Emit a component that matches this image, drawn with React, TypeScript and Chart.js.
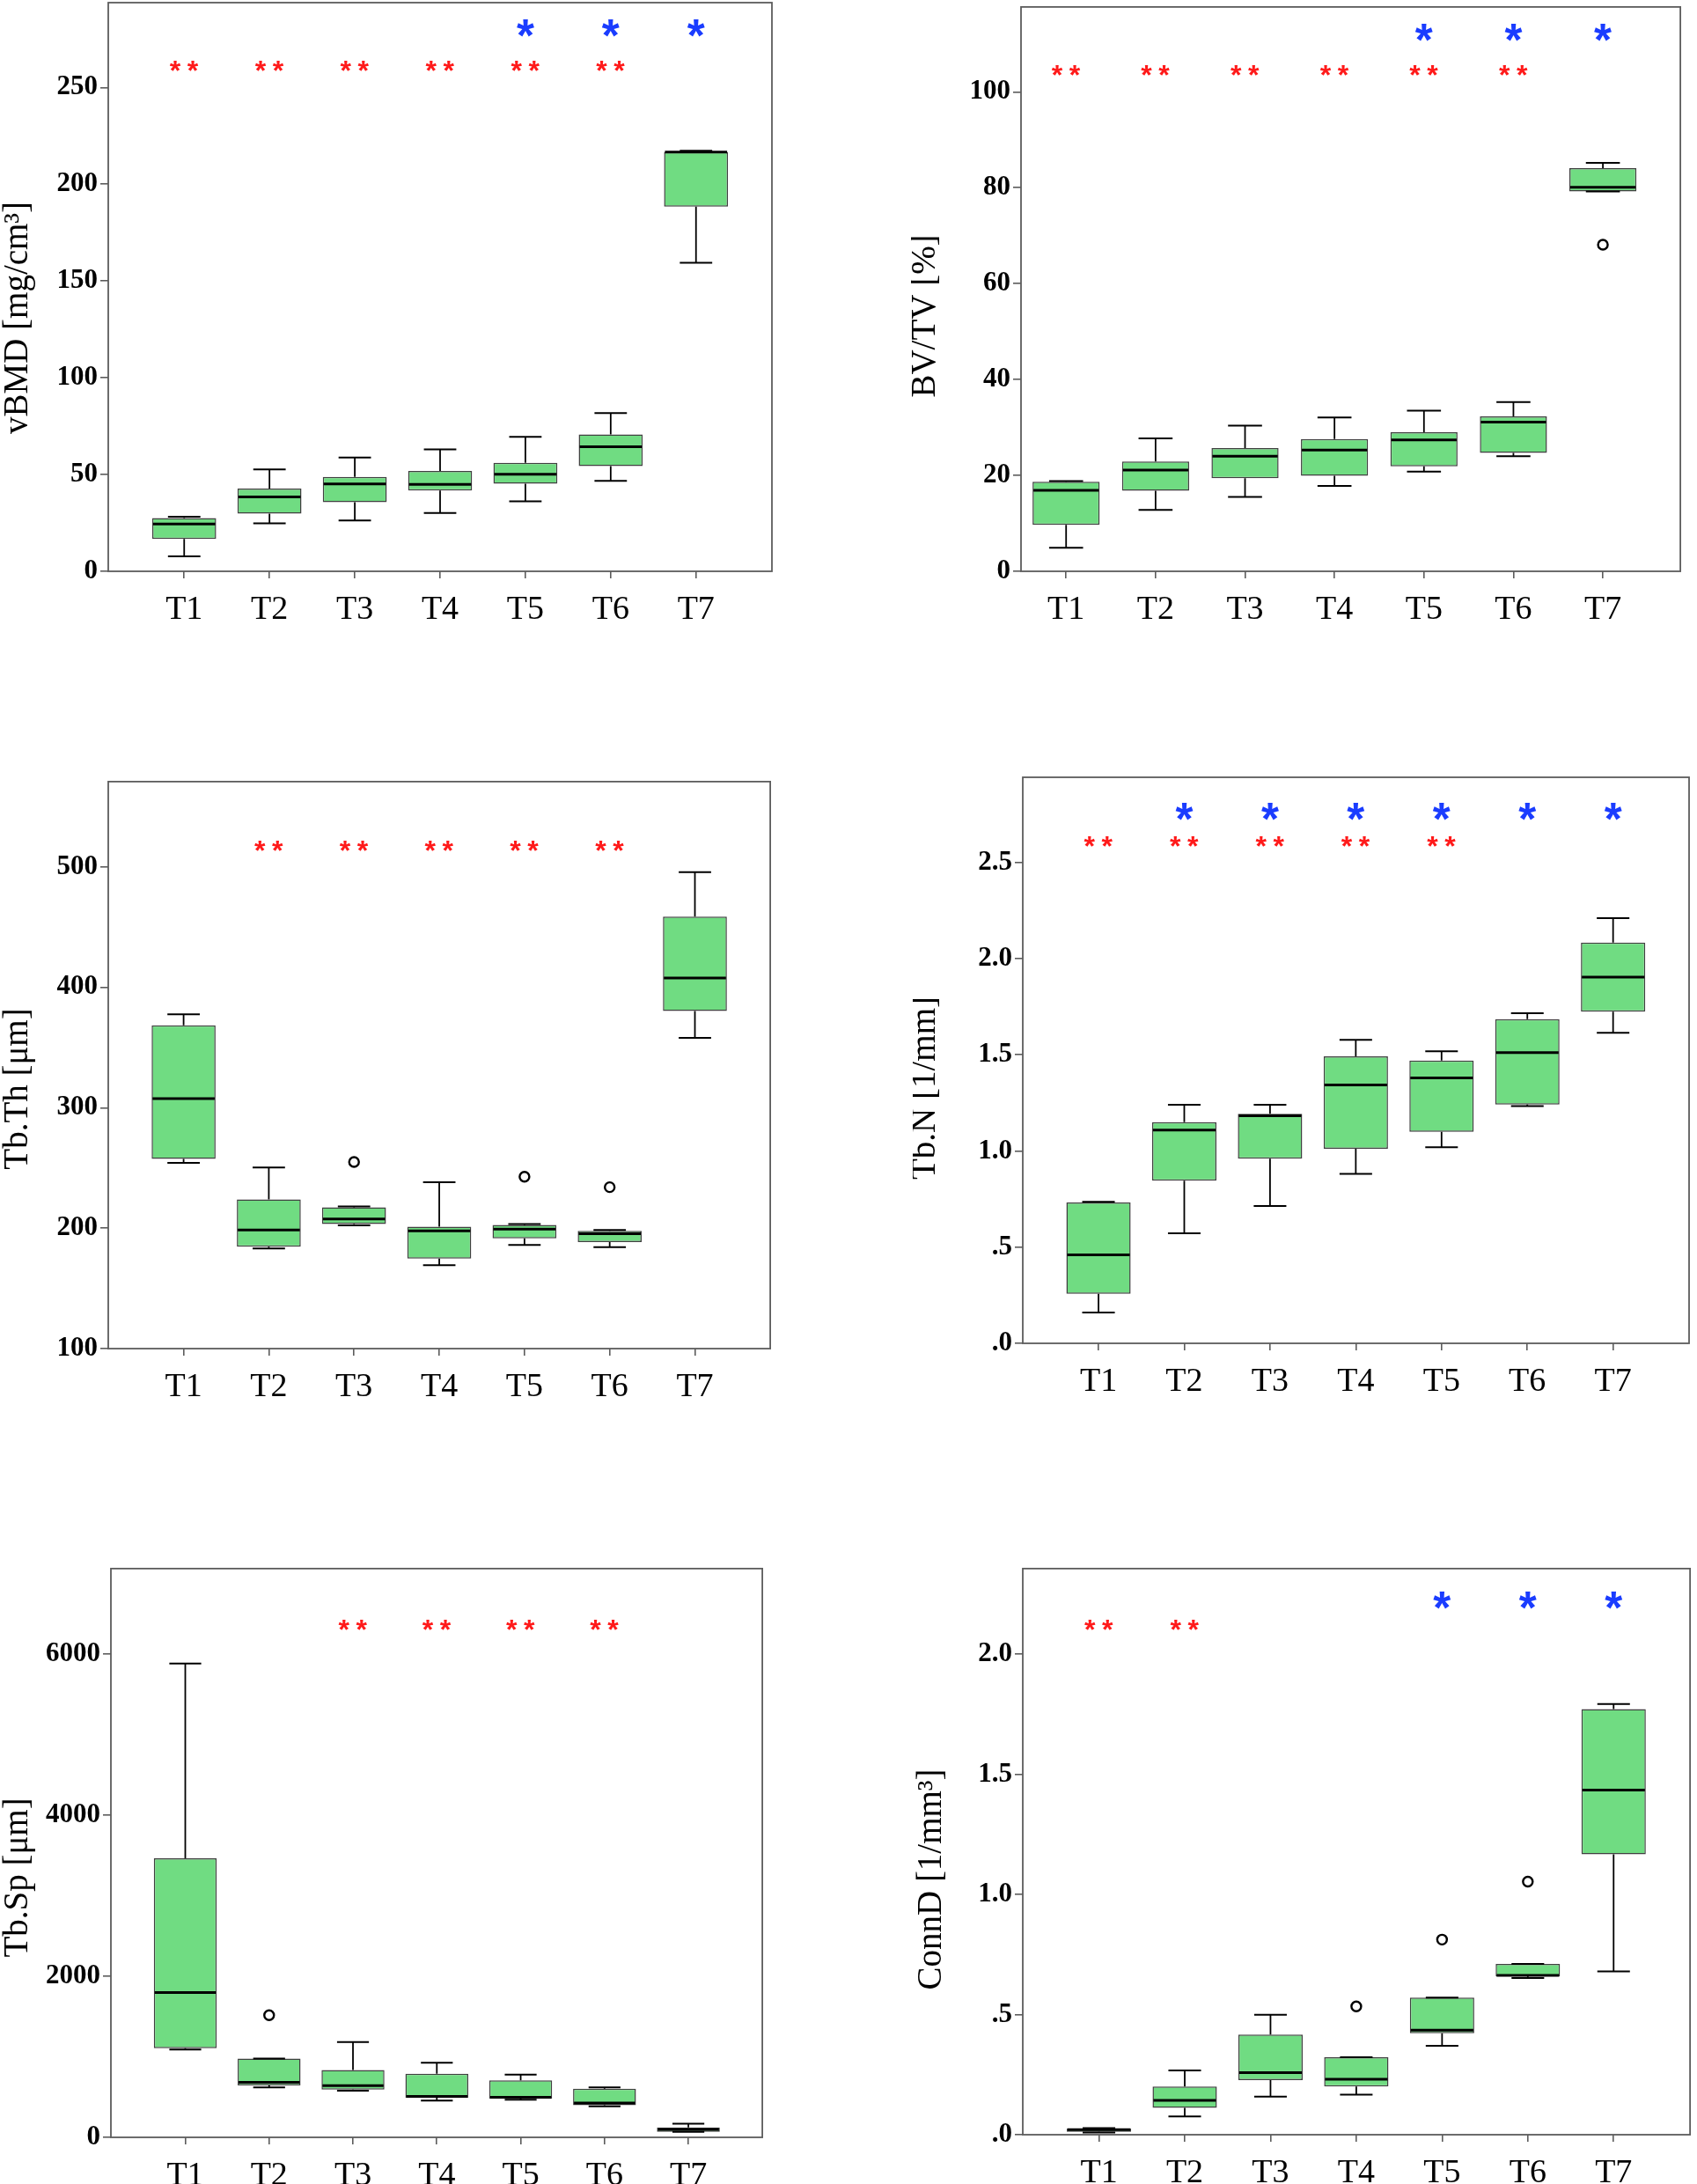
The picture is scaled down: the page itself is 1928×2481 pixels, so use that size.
import React, { useEffect, useRef } from "react";
import { Chart, registerables } from "chart.js";

Chart.register(...registerables);

// ---------- data ----------
const categories = ["T1", "T2", "T3", "T4", "T5", "T6", "T7"];

// vBMD [mg/cm3]
const vbmdLow = [7.7, 24.8, 26.3, 30.1, 36.1, 46.7, 159.4];
const vbmdQ1 = [16.7, 29.8, 35.7, 41.7, 45.3, 54.3, 188.4];
const vbmdMed = [24.4, 38.4, 45.1, 44.9, 50.1, 64.3, 216.6];
const vbmdQ3 = [27.5, 42.8, 48.8, 51.8, 56.1, 70.7, 216.6];
const vbmdHigh = [28.2, 52.6, 58.8, 63.0, 69.5, 81.8, 217.3];
const vbmdOutliers: [number, number][] = [];
const vbmdTicks = [0, 50, 100, 150, 200, 250];
const vbmdTickLabels = ["0", "50", "100", "150", "200", "250"];
const vbmdRed = [1, 2, 3, 4, 5, 6];
const vbmdBlue = [5, 6, 7];

// BV/TV [%]
const bvtvLow = [4.9, 12.8, 15.5, 17.8, 20.8, 24.0, 79.2];
const bvtvQ1 = [9.7, 16.8, 19.4, 19.9, 21.9, 24.7, 79.2];
const bvtvMed = [16.9, 21.1, 24.0, 25.3, 27.4, 31.1, 80.1];
const bvtvQ3 = [18.7, 22.9, 25.7, 27.6, 29.0, 32.3, 84.1];
const bvtvHigh = [18.8, 27.7, 30.4, 32.1, 33.5, 35.3, 85.2];
const bvtvOutliers: [number, number][] = [[7, 68.1]];
const bvtvTicks = [0, 20, 40, 60, 80, 100];
const bvtvTickLabels = ["0", "20", "40", "60", "80", "100"];
const bvtvRed = [1, 2, 3, 4, 5, 6];
const bvtvBlue = [5, 6, 7];

// Tb.Th [um]
const tbthLow = [254.2, 183.2, 202.3, 169.3, 186.0, 184.2, 358.0];
const tbthQ1 = [257.4, 184.6, 203.4, 174.8, 191.6, 188.4, 380.2];
const tbthMed = [307.5, 198.5, 207.6, 197.8, 199.2, 195.4, 407.7];
const tbthQ3 = [368.4, 223.9, 217.3, 201.3, 202.7, 197.8, 458.6];
const tbthHigh = [377.5, 250.4, 218.0, 238.2, 203.4, 198.5, 495.5];
const tbthOutliers: [number, number][] = [[3, 254.9], [5, 242.7], [6, 234.0]];
const tbthTicks = [100, 200, 300, 400, 500];
const tbthTickLabels = ["100", "200", "300", "400", "500"];
const tbthRed = [2, 3, 4, 5, 6];
const tbthBlue: number[] = [];

// Tb.N [1/mm]
const tbnLow = [0.16, 0.572, 0.714, 0.881, 1.019, 1.234, 1.615];
const tbnQ1 = [0.258, 0.846, 0.96, 1.012, 1.1, 1.242, 1.724];
const tbnMed = [0.46, 1.109, 1.183, 1.343, 1.38, 1.512, 1.904];
const tbnQ3 = [0.732, 1.15, 1.194, 1.492, 1.47, 1.685, 2.084];
const tbnHigh = [0.736, 1.24, 1.24, 1.578, 1.518, 1.716, 2.211];
const tbnOutliers: [number, number][] = [];
const tbnTicks = [0, 0.5, 1.0, 1.5, 2.0, 2.5];
const tbnTickLabels = [".0", ".5", "1.0", "1.5", "2.0", "2.5"];
const tbnRed = [1, 2, 3, 4, 5];
const tbnBlue = [2, 3, 4, 5, 6, 7];

// Tb.Sp [um]
const tbspLow = [1091, 620, 579, 456, 466, 384, 67];
const tbspQ1 = [1107, 646, 594, 492, 482, 400, 67];
const tbspMed = [1799, 682, 641, 507, 497, 425, 97];
const tbspQ3 = [3464, 979, 835, 789, 707, 605, 123];
const tbspHigh = [5883, 979, 1184, 927, 779, 620, 169];
const tbspOutliers: [number, number][] = [[2, 1517]];
const tbspTicks = [0, 2000, 4000, 6000];
const tbspTickLabels = ["0", "2000", "4000", "6000"];
const tbspRed = [3, 4, 5, 6];
const tbspBlue: number[] = [];

// ConnD [1/mm3]
const conndLow = [0.009, 0.076, 0.158, 0.167, 0.37, 0.652, 0.68];
const conndQ1 = [0.012, 0.112, 0.227, 0.201, 0.422, 0.659, 1.167];
const conndMed = [0.021, 0.143, 0.258, 0.231, 0.435, 0.663, 1.434];
const conndQ3 = [0.026, 0.201, 0.417, 0.322, 0.571, 0.711, 1.771];
const conndHigh = [0.0275, 0.267, 0.499, 0.322, 0.571, 0.711, 1.792];
const conndOutliers: [number, number][] = [[4, 0.534], [5, 0.812], [6, 1.053]];
const conndTicks = [0, 0.5, 1.0, 1.5, 2.0];
const conndTickLabels = [".0", ".5", "1.0", "1.5", "2.0"];
const conndRed = [1, 2];
const conndBlue = [5, 6, 7];

// ---------- styling / layout ----------
const SERIF = "'Liberation Serif', 'Times New Roman', serif";
const SANS = "'Liberation Sans', Arial, sans-serif";
const BOX_FILL = "#70dc82";
const BOX_EDGE = "#404040";
const FRAME = "#5c5c5c";
const RED = "#ff1a1a";
const BLUE = "#1a3cff";

type Panel = {
  title: string;
  low: number[]; q1: number[]; med: number[]; q3: number[]; high: number[];
  outliers: [number, number][];
  ticks: number[]; tickLabels: string[];
  yMin: number; yMax: number;
  red: number[]; blue: number[];
  area: { l: number; t: number; r: number; b: number };
  xMin: number; xMax: number;
  titleX: number; titleY: number;
  blueDy: number; redDy: number;
};

const panels: Panel[] = [
  {
    title: "vBMD [mg/cm\u00b3]", low: vbmdLow, q1: vbmdQ1, med: vbmdMed, q3: vbmdQ3, high: vbmdHigh,
    outliers: vbmdOutliers, ticks: vbmdTicks, tickLabels: vbmdTickLabels, yMin: 0, yMax: 293.8,
    red: vbmdRed, blue: vbmdBlue, area: { l: 123, t: 3, r: 877, b: 649 }, xMin: 0.11, xMax: 7.89,
    titleX: 21, titleY: 361, blueDy: 29, redDy: 72,
  },
  {
    title: "BV/TV [%]", low: bvtvLow, q1: bvtvQ1, med: bvtvMed, q3: bvtvQ3, high: bvtvHigh,
    outliers: bvtvOutliers, ticks: bvtvTicks, tickLabels: bvtvTickLabels, yMin: 0, yMax: 117.7,
    red: bvtvRed, blue: bvtvBlue, area: { l: 1160, t: 3, r: 1913, b: 649 }, xMin: 0.496, xMax: 7.866,
    titleX: 1052, titleY: 359, blueDy: 29, redDy: 72,
  },
  {
    title: "Tb.Th [\u03bcm]", low: tbthLow, q1: tbthQ1, med: tbthMed, q3: tbthQ3, high: tbthHigh,
    outliers: tbthOutliers, ticks: tbthTicks, tickLabels: tbthTickLabels, yMin: 100, yMax: 570.7,
    red: tbthRed, blue: tbthBlue, area: { l: 123, t: 883, r: 879, b: 1532 }, xMin: 0.116, xMax: 7.884,
    titleX: 21, titleY: 1237, blueDy: 38, redDy: 73,
  },
  {
    title: "Tb.N [1/mm]", low: tbnLow, q1: tbnQ1, med: tbnMed, q3: tbnQ3, high: tbnHigh,
    outliers: tbnOutliers, ticks: tbnTicks, tickLabels: tbnTickLabels, yMin: 0, yMax: 2.943,
    red: tbnRed, blue: tbnBlue, area: { l: 1162, t: 883, r: 1919, b: 1526 }, xMin: 0.117, xMax: 7.886,
    titleX: 1052, titleY: 1236, blueDy: 38.5, redDy: 73,
  },
  {
    title: "Tb.Sp [\u03bcm]", low: tbspLow, q1: tbspQ1, med: tbspMed, q3: tbspQ3, high: tbspHigh,
    outliers: tbspOutliers, ticks: tbspTicks, tickLabels: tbspTickLabels, yMin: 0, yMax: 7061,
    red: tbspRed, blue: tbspBlue, area: { l: 126, t: 1777, r: 870, b: 2428 }, xMin: 0.113, xMax: 7.882,
    titleX: 21, titleY: 2133, blueDy: 36.5, redDy: 64,
  },
  {
    title: "ConnD [1/mm\u00b3]", low: conndLow, q1: conndQ1, med: conndMed, q3: conndQ3, high: conndHigh,
    outliers: conndOutliers, ticks: conndTicks, tickLabels: conndTickLabels, yMin: 0, yMax: 2.356,
    red: conndRed, blue: conndBlue, area: { l: 1162, t: 1777, r: 1924, b: 2425 }, xMin: 0.112, xMax: 7.891,
    titleX: 1059, titleY: 2135, blueDy: 36.5, redDy: 64,
  },
];

const X_AXIS_H = 75;
const PAD_TOP = 3;
const PAD_RIGHT = 4;

function canvasBox(p: Panel) {
  const cx = Math.max(0, p.area.l - 125);
  const cy = p.area.t - PAD_TOP;
  const right = Math.min(1928, p.area.r + PAD_RIGHT);
  const w = right - cx;
  const h = p.area.b - cy + X_AXIS_H;
  return { cx, cy, w, h, yW: p.area.l - cx, padRight: right - p.area.r };
}

// draw a glyph so that its ink box has the given width and is centred on (cx, cy)
function drawStar(ctx: CanvasRenderingContext2D, font: (size: number) => string, color: string, inkW: number, cx: number, cy: number) {
  ctx.textAlign = "left";
  ctx.textBaseline = "alphabetic";
  ctx.font = font(100);
  const m0 = ctx.measureText("*");
  const w0 = m0.actualBoundingBoxRight + m0.actualBoundingBoxLeft;
  const size = w0 > 0 ? (100 * inkW) / w0 : 30;
  ctx.font = font(size);
  const m = ctx.measureText("*");
  ctx.fillStyle = color;
  const x = cx - (m.actualBoundingBoxRight - m.actualBoundingBoxLeft) / 2;
  const y = cy + (m.actualBoundingBoxAscent - m.actualBoundingBoxDescent) / 2;
  ctx.fillText("*", x, y);
}

function makeExtras(p: Panel, box: { cx: number; cy: number }) {
  return {
    id: "boxExtras",
    afterDatasetsDraw(chart: any) {
      const xs = chart.scales.x;
      const ys = chart.scales.y;
      const ctx: CanvasRenderingContext2D = chart.ctx;
      const spacing = xs.getPixelForValue(2) - xs.getPixelForValue(1);
      const capHalf = spacing * 0.19;
      const boxHalf = spacing * 0.375;
      ctx.save();
      ctx.strokeStyle = "#000";
      ctx.lineCap = "butt";
      for (let i = 0; i < categories.length; i++) {
        const px = xs.getPixelForValue(i + 1);
        const yLow = ys.getPixelForValue(p.low[i]);
        const yQ1 = ys.getPixelForValue(p.q1[i]);
        const yMed = ys.getPixelForValue(p.med[i]);
        const yQ3 = ys.getPixelForValue(p.q3[i]);
        const yHigh = ys.getPixelForValue(p.high[i]);
        ctx.lineWidth = 1.8;
        ctx.beginPath();
        ctx.moveTo(px, yQ3);
        ctx.lineTo(px, yHigh);
        ctx.moveTo(px, yQ1);
        ctx.lineTo(px, yLow);
        ctx.stroke();
        ctx.lineWidth = 2;
        ctx.beginPath();
        ctx.moveTo(px - capHalf, yHigh);
        ctx.lineTo(px + capHalf, yHigh);
        ctx.moveTo(px - capHalf, yLow);
        ctx.lineTo(px + capHalf, yLow);
        ctx.stroke();
        ctx.lineWidth = 3;
        ctx.beginPath();
        ctx.moveTo(px - boxHalf + 1, yMed);
        ctx.lineTo(px + boxHalf - 1, yMed);
        ctx.stroke();
      }
      ctx.restore();
    },
    afterDraw(chart: any) {
      const ctx: CanvasRenderingContext2D = chart.ctx;
      const a = chart.chartArea;
      const xs = chart.scales.x;
      ctx.save();
      // frame
      ctx.strokeStyle = FRAME;
      ctx.lineWidth = 1.8;
      ctx.strokeRect(a.left, a.top, a.right - a.left, a.bottom - a.top);
      // significance marks
      for (const c of p.red) {
        const px = xs.getPixelForValue(c);
        drawStar(ctx, (s) => `bold ${s}px ${SANS}`, RED, 12.5, px - 10, a.top + p.redDy);
        drawStar(ctx, (s) => `bold ${s}px ${SANS}`, RED, 12.5, px + 10, a.top + p.redDy);
      }
      for (const c of p.blue) {
        const px = xs.getPixelForValue(c);
        drawStar(ctx, (s) => `bold ${s}px ${SANS}`, BLUE, 20, px, a.top + p.blueDy);
      }
      // y title
      ctx.translate(p.titleX - box.cx, p.titleY - box.cy);
      ctx.rotate(-Math.PI / 2);
      ctx.font = `39px ${SERIF}`;
      ctx.fillStyle = "#000";
      ctx.textAlign = "center";
      ctx.textBaseline = "middle";
      ctx.fillText(p.title, 0, 0);
      ctx.restore();
    },
  };
}

function BoxPanel({ p }: { p: Panel }) {
  const ref = useRef<HTMLCanvasElement | null>(null);
  const box = canvasBox(p);
  useEffect(() => {
    if (!ref.current) return;
    const chart = new Chart(ref.current, {
      type: "bar",
      data: {
        datasets: [
          {
            type: "bar",
            data: categories.map((_, i) => ({ x: i + 1, y: [p.q1[i], p.q3[i]] })) as any,
            backgroundColor: BOX_FILL,
            borderColor: BOX_EDGE,
            borderWidth: 1.5,
            borderSkipped: false,
            barPercentage: 0.75,
            categoryPercentage: 1,
            order: 2,
          } as any,
          {
            type: "scatter",
            data: p.outliers.map(([c, v]) => ({ x: c, y: v })),
            pointRadius: 5.5,
            pointBorderWidth: 2.4,
            pointBorderColor: "#000",
            pointBackgroundColor: "#fff",
            order: 1,
          } as any,
        ],
      },
      options: {
        responsive: false,
        animation: false,
        devicePixelRatio: 1,
        layout: { padding: { top: PAD_TOP, right: box.padRight, left: 0, bottom: 0 } },
        plugins: { legend: { display: false }, tooltip: { enabled: false } },
        scales: {
          x: {
            type: "linear",
            min: p.xMin,
            max: p.xMax,
            offset: false,
            afterBuildTicks: (s: any) => {
              s.ticks = categories.map((_, i) => ({ value: i + 1 }));
            },
            afterFit: (s: any) => {
              s.height = X_AXIS_H;
              s.paddingLeft = 0;
              s.paddingRight = 0;
            },
            ticks: {
              autoSkip: false,
              maxRotation: 0,
              minRotation: 0,
              padding: 13,
              color: "#000",
              font: { family: SERIF, size: 38 },
              callback: (v: any) => categories[Math.round(Number(v)) - 1],
            },
            grid: { drawOnChartArea: false, drawTicks: true, tickLength: 8, color: FRAME, lineWidth: 1.6, offset: false },
            border: { display: false },
          },
          y: {
            type: "linear",
            min: p.yMin,
            max: p.yMax,
            afterBuildTicks: (s: any) => {
              s.ticks = p.ticks.map((v) => ({ value: v }));
            },
            afterFit: (s: any) => {
              s.width = box.yW;
              s.paddingTop = 0;
              s.paddingBottom = 0;
            },
            ticks: {
              autoSkip: false,
              padding: 3,
              color: "#000",
              font: { family: SERIF, size: 31, weight: "bold" },
              callback: (_v: any, i: number) => p.tickLabels[i],
            },
            grid: { drawOnChartArea: false, drawTicks: true, tickLength: 9, color: FRAME, lineWidth: 1.6 },
            border: { display: false },
          },
        } as any,
      },
      plugins: [makeExtras(p, box) as any],
    });
    return () => chart.destroy();
  }, []);
  return (
    <canvas
      ref={ref}
      width={box.w}
      height={box.h}
      style={{ position: "absolute", left: box.cx, top: box.cy, width: box.w, height: box.h }}
    />
  );
}

export default function App() {
  return (
    <div style={{ position: "absolute", left: 0, top: 0, width: 1928, height: 2481, background: "#fff" }}>
      {panels.map((p, i) => (
        <BoxPanel key={i} p={p} />
      ))}
    </div>
  );
}
